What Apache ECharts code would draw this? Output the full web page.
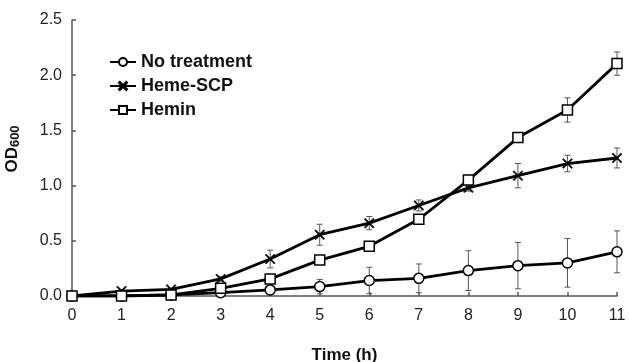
<!DOCTYPE html>
<html>
<head>
<meta charset="utf-8">
<script src="https://cdn.jsdelivr.net/npm/echarts@6/dist/echarts.min.js"></script>
<style>
  html, body { margin: 0; padding: 0; background: #fff; }
  #chart { width: 629px; height: 362px; }
</style>
</head>
<body>
<div id="chart"></div>
<script>
const hours = [0, 1, 2, 3, 4, 5, 6, 7, 8, 9, 10, 11];
const noTreatment = [0, 0.0, 0.01, 0.03, 0.055, 0.085, 0.14, 0.16, 0.23, 0.275, 0.30, 0.40];
const noTreatmentErr = [0, 0.005, 0.005, 0.01, 0.03, 0.065, 0.12, 0.13, 0.18, 0.21, 0.22, 0.19];
const hemeSCP = [0, 0.045, 0.06, 0.155, 0.335, 0.555, 0.66, 0.82, 0.98, 1.09, 1.20, 1.25];
const hemeSCPErr = [0, 0.01, 0.01, 0.02, 0.08, 0.095, 0.06, 0.05, 0.03, 0.11, 0.075, 0.09];
const hemin = [0, 0.0, 0.01, 0.07, 0.155, 0.325, 0.45, 0.695, 1.05, 1.435, 1.685, 2.105];
const heminErr = [0, 0.005, 0.005, 0.02, 0.02, 0.02, 0.04, 0.03, 0.02, 0.04, 0.11, 0.105];

const crossPath = "path://M0,1L1,0L5,4L9,0L10,1L6,5L10,9L9,10L5,6L1,10L0,9L4,5Z";

function pairs(vals) {
  return hours.map((h, i) => [h, vals[i]]);
}

function errSeries(vals, errs) {
  return {
    type: "custom",
    silent: true,
    z: 1,
    data: hours.map((h, i) => [h, vals[i] - errs[i], vals[i] + errs[i]]),
    renderItem(params, api) {
      const lo = api.coord([api.value(0), api.value(1)]);
      const hi = api.coord([api.value(0), api.value(2)]);
      const w = 3;
      const style = { stroke: "#555", lineWidth: 1 };
      return {
        type: "group",
        children: [
          { type: "line", shape: { x1: lo[0], y1: lo[1], x2: hi[0], y2: hi[1] }, style },
          { type: "line", shape: { x1: lo[0] - w, y1: lo[1], x2: lo[0] + w, y2: lo[1] }, style },
          { type: "line", shape: { x1: hi[0] - w, y1: hi[1], x2: hi[0] + w, y2: hi[1] }, style },
        ],
      };
    },
  };
}

function lineSeries(name, vals, symbol, size, filled) {
  return {
    name,
    type: "line",
    z: 3,
    data: pairs(vals),
    symbol,
    symbolSize: size,
    showAllSymbol: true,
    lineStyle: { color: "#000", width: 2.8 },
    itemStyle: filled
      ? { color: "#000", borderColor: "#000", borderWidth: 0.5 }
      : { color: "#fff", borderColor: "#000", borderWidth: 1.5 },
    emphasis: { disabled: true },
  };
}

const chart = echarts.init(document.getElementById("chart"));

chart.setOption({
  animation: false,
  backgroundColor: "#fff",
  grid: { left: 72, right: 12, top: 20, bottom: 66, outerBoundsMode: "none" },
  legend: {
    orient: "vertical",
    left: 104,
    top: 48,
    itemGap: 6,
    itemWidth: 26,
    itemHeight: 10,
    textStyle: { fontFamily: "Liberation Sans", fontWeight: "bold", fontSize: 18, color: "#111" },
    data: ["No treatment", "Heme-SCP", "Hemin"],
  },
  xAxis: {
    type: "value",
    min: 0,
    max: 11,
    interval: 1,
    name: "Time (h)",
    nameLocation: "middle",
    nameGap: 51,
    nameTextStyle: { fontFamily: "Liberation Sans", fontWeight: "bold", fontSize: 17, color: "#111" },
    axisLine: { lineStyle: { color: "#555", width: 1.5 } },
    axisTick: { inside: true, length: 4, lineStyle: { color: "#555", width: 1.5 } },
    axisLabel: { fontFamily: "Liberation Sans", fontSize: 16, color: "#222", margin: 12 },
    splitLine: { show: false },
  },
  yAxis: {
    type: "value",
    min: 0,
    max: 2.5,
    interval: 0.5,
    name: "{a|OD}{b|600}",
    nameLocation: "middle",
    nameGap: 50,
    nameRotate: 90,
    nameTextStyle: {
      padding: [0, 0, 0, 18],
      rich: {
        a: { fontFamily: "Liberation Sans", fontWeight: "bold", fontSize: 17, color: "#111" },
        b: { fontFamily: "Liberation Sans", fontWeight: "bold", fontSize: 13, color: "#111", padding: [6, 0, 0, 0] },
      },
    },
    axisLine: { show: true, lineStyle: { color: "#555", width: 1.5 } },
    axisTick: { show: true, inside: true, length: 4, lineStyle: { color: "#555", width: 1.5 } },
    axisLabel: {
      fontFamily: "Liberation Sans",
      fontSize: 16,
      color: "#222",
      margin: 10,
      formatter: (v) => v.toFixed(1),
    },
    splitLine: { show: false },
  },
  series: [
    errSeries(noTreatment, noTreatmentErr),
    errSeries(hemeSCP, hemeSCPErr),
    errSeries(hemin, heminErr),
    lineSeries("No treatment", noTreatment, "circle", 10, false),
    lineSeries("Heme-SCP", hemeSCP, crossPath, 10, true),
    lineSeries("Hemin", hemin, "rect", 10, false),
  ],
});
</script>
</body>
</html>
